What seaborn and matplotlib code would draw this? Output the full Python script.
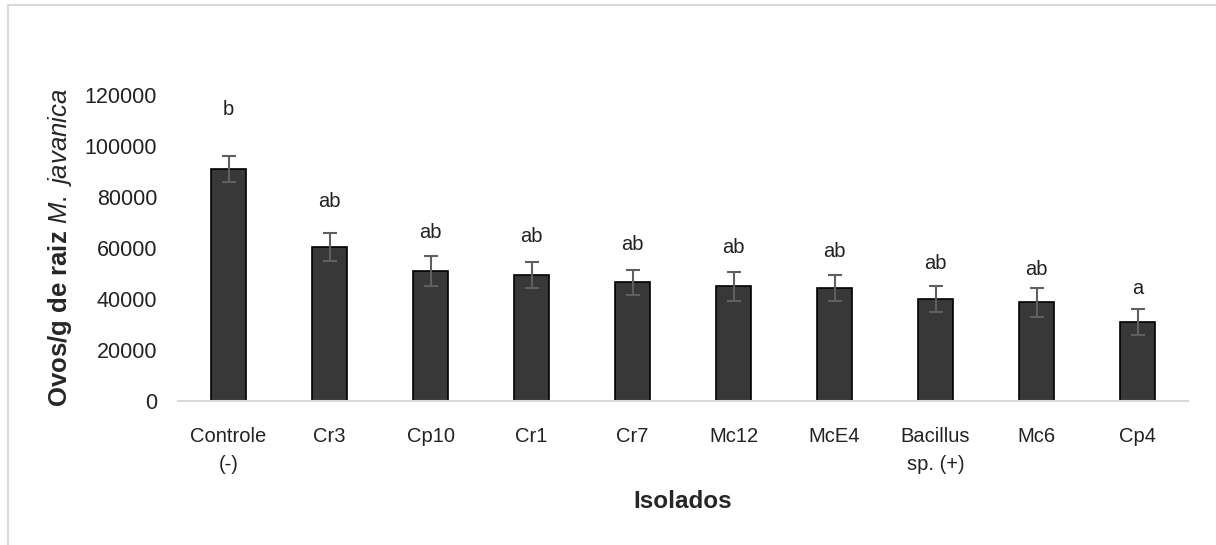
import matplotlib
matplotlib.use("Agg")
import matplotlib.pyplot as plt
import seaborn as sns
import pandas as pd
import numpy as np
from matplotlib.patches import Rectangle

# values
isolados = ["Controle\n(-)", "Cr3", "Cp10", "Cr1", "Cr7", "Mc12", "McE4",
            "Bacillus\nsp. (+)", "Mc6", "Cp4"]
ovos = [91000, 60500, 51000, 49500, 46500, 45000, 44500, 40000, 38700, 30900]
erro = [5000, 5500, 5800, 5000, 5000, 5700, 5100, 5100, 5600, 5000]
letras = ["b", "ab", "ab", "ab", "ab", "ab", "ab", "ab", "ab", "a"]
letras_y = [114500, 78200, 66200, 64600, 61300, 60100, 58600, 53800, 51600, 44300]

df = pd.DataFrame({"isolado": isolados, "ovos": ovos})

sns.set_theme(style="white")
plt.rcParams["font.family"] = ["Liberation Sans", "DejaVu Sans"]
plt.rcParams["mathtext.fontset"] = "custom"
plt.rcParams["mathtext.it"] = "Liberation Sans:italic"
plt.rcParams["mathtext.rm"] = "Liberation Sans"

fig = plt.figure(figsize=(12.16, 5.45), dpi=100)
ax = fig.add_axes([0.1464, 0.2642, 0.8306, 0.5615])

sns.barplot(data=df, x="isolado", y="ovos", color="#383838", width=0.34,
            edgecolor="black", linewidth=1.2, saturation=1, ax=ax)
ax.errorbar(np.arange(len(ovos)), ovos, yerr=erro, fmt="none",
            ecolor="#5f5f5f", elinewidth=1.5, capsize=5, capthick=1.5)

for i, (t, y) in enumerate(zip(letras, letras_y)):
    ax.text(i, y, t, ha="center", va="center", fontsize=14.5, color="#222222",
            clip_on=False)

ax.set_ylim(0, 120000)
ax.set_xlim(-0.5, len(ovos) - 0.5)
ax.set_yticks(range(0, 120001, 20000))
ax.tick_params(axis="y", length=0, labelsize=15.5, pad=15, colors="#222222")
ax.tick_params(axis="x", which="major", length=0, labelsize=14.5, pad=19,
               colors="#222222")
for lab in ax.get_xticklabels():
    lab.set_linespacing(1.55)
ax.set_xticks(np.arange(-0.5, len(ovos)), minor=True)
ax.tick_params(axis="x", which="minor", length=7, width=1.2, color="#d9d9d9")

for s in ["top", "right", "left"]:
    ax.spines[s].set_visible(False)
ax.spines["bottom"].set_color("#d9d9d9")
ax.spines["bottom"].set_linewidth(1.5)

ax.set_xlabel("Isolados", fontsize=17.5, fontweight="bold", labelpad=12)
ax.set_ylabel(r"Ovos/g de raiz $M.\ javanica$", fontsize=18.5,
              fontweight="bold", labelpad=8)

# chart area border
fig.patches.append(Rectangle((8 / 1216, -0.1), 1.2, 1.1 - 5 / 545,
                             transform=fig.transFigure, fill=False,
                             edgecolor="#d9d9d9", linewidth=1.5))

fig.savefig("out.png", dpi=100, facecolor="white")
